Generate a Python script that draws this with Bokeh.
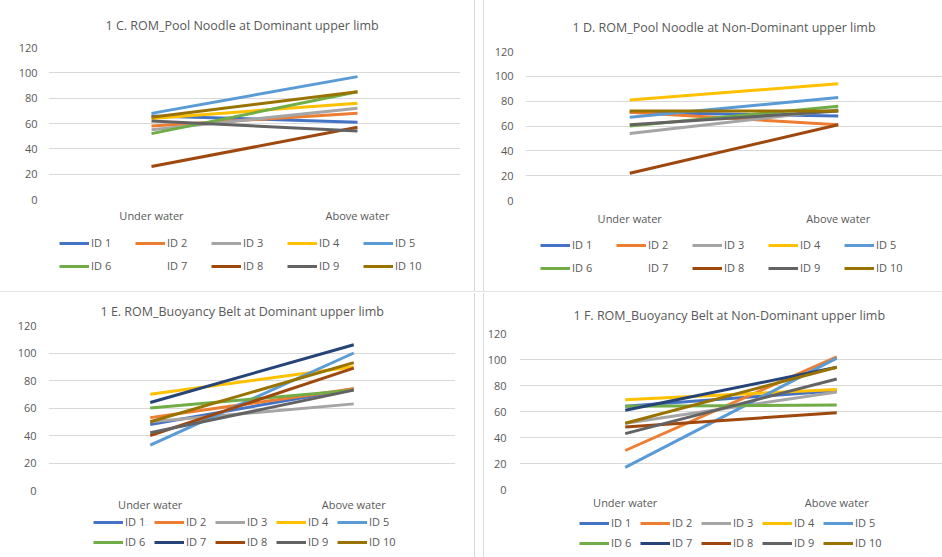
import math
from bokeh.plotting import figure
from bokeh.models import Legend, LegendItem, Range1d, FactorRange, Div
from bokeh.layouts import row, column
from bokeh.embed import file_html
from bokeh.resources import INLINE
from bokeh.core.properties import value

conditions = ["Under water", "Above water"]
ids = ["ID 1", "ID 2", "ID 3", "ID 4", "ID 5", "ID 6", "ID 7", "ID 8", "ID 9", "ID 10"]
colors = ["#4472C4", "#ED7D31", "#A5A5A5", "#FFC000", "#5B9BD5",
          "#70AD47", "#264478", "#9E480E", "#636363", "#997300"]
y_ticks = [0, 20, 40, 60, 80, 100, 120]

NA = float("nan")
# 1 C. Pool Noodle, dominant limb
c_under = [66, 58, 55, 64, 68, 52, NA, 26, 62, 65]
c_above = [61, 68, 72, 76, 97, 85, NA, 57, 54, 85]
# 1 D. Pool Noodle, non-dominant limb
d_under = [71, 71, 54, 81, 67, 60, NA, 22, 61, 72]
d_above = [68, 61, 73, 94, 83, 76, NA, 61, 72, 72]
# 1 E. Buoyancy Belt, dominant limb
e_under = [48, 53, 50, 70, 33, 60, 64, 40, 42, 50]
e_above = [74, 74, 63, 90, 100, 73, 106, 89, 73, 93]
# 1 F. Buoyancy Belt, non-dominant limb
f_under = [64, 30, 51, 69, 17, 64, 61, 48, 43, 51]
f_above = [76, 102, 75, 77, 101, 65, 94, 59, 85, 94]

TXT = "#595959"
GRID = "#d9d9d9"
FONT = "Open Sans"


def make_chart(title, under, above, width, height, bl, br, bt, bb,
               title_standoff, title_offset, ystandoff, xstandoff):
    p = figure(x_range=FactorRange(factors=conditions), y_range=Range1d(0, 120),
               width=width, height=height, output_backend="svg", toolbar_location=None,
               min_border_left=bl, min_border_right=br, min_border_top=bt, min_border_bottom=bb)
    p.title.text = title
    p.title.align = "left"
    p.title.offset = title_offset
    p.title.text_font = FONT
    p.title.text_font_size = "12.5px"
    p.title.text_font_style = "normal"
    p.title.text_color = TXT
    p.title.standoff = title_standoff
    p.outline_line_color = None
    p.xgrid.visible = False
    p.ygrid.grid_line_color = GRID
    p.ygrid.grid_line_width = 1
    p.yaxis.ticker = y_ticks
    for ax in (p.xaxis, p.yaxis):
        ax.axis_line_color = None
        ax.major_tick_line_color = None
        ax.minor_tick_line_color = None
        ax.major_tick_in = 0
        ax.major_tick_out = 0
        ax.major_label_text_font = FONT
        ax.major_label_text_font_size = "11px"
        ax.major_label_text_color = TXT
    p.yaxis.major_label_standoff = ystandoff
    p.xaxis.major_label_standoff = xstandoff
    for i in range(len(ids)):
        p.line(x=conditions, y=[under[i], above[i]], line_color=colors[i], line_width=3)
    return p


def make_legend(width, height, missing, x0, y_rows, spacing):
    # x0 is measured from the chart frame's left edge (frames are aligned in a column)
    lf = figure(width=width, height=height, output_backend="svg", toolbar_location=None,
                x_range=Range1d(0, 1), y_range=Range1d(0, 1),
                x_axis_location=None, y_axis_location=None,
                min_border=0, min_border_left=0, min_border_right=0,
                min_border_top=0, min_border_bottom=0)
    lf.grid.visible = False
    lf.outline_line_color = None
    items = []
    for i, name in enumerate(ids):
        r = lf.line(x=[NA, NA], y=[NA, NA], line_color=colors[i], line_width=3,
                    line_alpha=0 if missing[i] else 1)
        items.append(LegendItem(label=value(name), renderers=[r]))
    for k in range(2):
        leg = Legend(items=items[5 * k:5 * k + 5], orientation="horizontal",
                     location=(x0, y_rows[k]), border_line_color=None,
                     background_fill_alpha=0,
                     label_text_font=FONT, label_text_font_size="11px", label_text_color=TXT,
                     glyph_width=30, glyph_height=14, label_height=14, label_width=26,
                     label_standoff=2, spacing=spacing, padding=0, margin=0)
        lf.add_layout(leg)
    return lf


def missing_of(under, above):
    return [math.isnan(u) and math.isnan(a) for u, a in zip(under, above)]


pC = make_chart("1 C. ROM_Pool Noodle at Dominant upper limb", c_under, c_above,
                474, 230, 48, 14, 47, 31, 27, 57, 11, 8)
lC = make_legend(474, 61, missing_of(c_under, c_above), 11, [41, 18], 18)
pD = make_chart("1 D. ROM_Pool Noodle at Non-Dominant upper limb", d_under, d_above,
                458, 232, 41, 0, 51, 32, 31, 47, 12, 10)
lD = make_legend(458, 59, missing_of(d_under, d_above), 15, [39, 16], 18)
pE = make_chart("1 E. ROM_Buoyancy Belt at Dominant upper limb", e_under, e_above,
                474, 221, 48, 19, 32, 23, 12, 52, 12, 6)
lE = make_legend(474, 43, missing_of(e_under, e_above), 45, [28, 8], 3)
pF = make_chart("1 F. ROM_Buoyancy Belt at Non-Dominant upper limb", f_under, f_above,
                458, 221, 32, 0, 40, 25, 20, 54, 13, 5)
lF = make_legend(458, 43, missing_of(f_under, f_above), 60, [27, 7], 3)

sep_style = {"border-left": "1px solid #d9d9d9", "border-right": "1px solid #d9d9d9",
             "box-sizing": "border-box"}
sep1 = Div(text="", width=10, height=291, margin=0, styles=sep_style)
sep2 = Div(text="", width=10, height=264, margin=0, styles=sep_style)
hsep = Div(text="", width=942, height=2, margin=0,
           styles={"border-top": "1px solid #e4e4e4", "box-sizing": "border-box"})

layout = column(row(column(pC, lC), sep1, column(pD, lD)),
                hsep,
                row(column(pE, lE), sep2, column(pF, lF)))

open("out.html", "w").write(file_html(layout, INLINE))
